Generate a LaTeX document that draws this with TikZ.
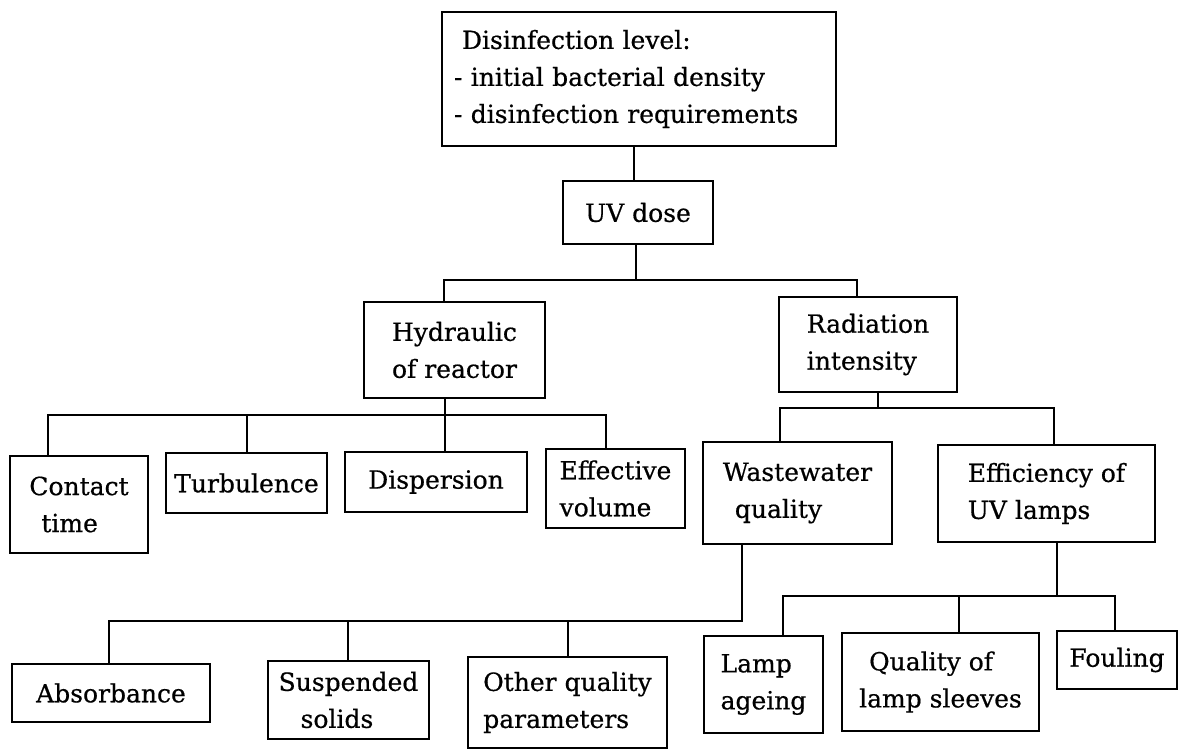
\documentclass[tikz,border=0pt]{standalone}
\usepackage{fontspec}
\setmainfont{DejaVu Serif}
\newfontfamily\boxfont{DejaVu Serif}[FakeBold=0.6]
\begin{document}
\begin{tikzpicture}[x=1pt,y=-1pt,
  box/.style={draw, line width=2.6pt, align=left, inner sep=0pt,
    font=\boxfont\fontsize{25}{37}\selectfont},
  conn/.style={line width=2.6pt, line join=miter}]
\useasboundingbox (0,0) rectangle (1187,751);
\fill[white] (0,0) rectangle (1187,751);
% nodes
\node[box, minimum width=394pt, minimum height=134pt, text width=370pt] (top) at (639,79)
  {\hspace*{8pt}Disinfection level:\\- initial bacterial density\\- disinfection requirements};
\node[box, minimum width=150pt, minimum height=63pt] (uv) at (638,212.5) {UV dose};
\node[box, minimum width=181pt, minimum height=96pt] (hyd) at (454.5,350) {Hydraulic\\of reactor};
\node[box, minimum width=178pt, minimum height=95pt] (rad) at (868,344.5) {Radiation\\intensity};
\node[box, minimum width=138pt, minimum height=97pt] (con) at (79,504.5) {Contact\\\hspace*{12pt}time};
\node[box, minimum width=161pt, minimum height=60pt] (tur) at (246.5,483) {Turbulence};
\node[box, minimum width=182pt, minimum height=60pt] (dis) at (436,482) {Dispersion};
\node[box, minimum width=139pt, minimum height=79pt] (eff) at (615.5,488.5) {Effective\\volume};
\node[box, minimum width=189pt, minimum height=102pt] (was) at (797.5,493) {Wastewater\\\hspace*{12pt}quality};
\node[box, minimum width=217pt, minimum height=97pt] (efl) at (1046.5,493.5) {Efficiency of\\UV lamps};
\node[box, minimum width=198pt, minimum height=58pt] (abs) at (111,693) {Absorbance};
\node[box, minimum width=161pt, minimum height=78pt] (sus) at (348.5,700) {Suspended\\\hspace*{22pt}solids};
\node[box, minimum width=199pt, minimum height=91pt] (oth) at (567.5,702.5) {Other quality\\parameters};
\node[box, minimum width=119pt, minimum height=97pt] (lam) at (763.5,684.5) {Lamp\\ageing};
\node[box, minimum width=197pt, minimum height=98pt] (qua) at (940.5,682) {\hspace*{10pt}Quality of\\lamp sleeves};
\node[box, minimum width=120pt, minimum height=58pt] (fou) at (1117,660) {Fouling};
% junction coordinates
\coordinate (b1l) at (444,280);
\coordinate (b1r) at (857,280);
\coordinate (b2l) at (48,415);
\coordinate (b2a) at (247,415);
\coordinate (b2b) at (445,415);
\coordinate (b2r) at (606,415);
\coordinate (b3l) at (780,408);
\coordinate (b3m) at (878,408);
\coordinate (b3r) at (1054,408);
\coordinate (b4l) at (109,621);
\coordinate (b4a) at (348,621);
\coordinate (b4b) at (568,621);
\coordinate (b4r) at (742,621);
\coordinate (b5l) at (783,596);
\coordinate (b5a) at (959,596);
\coordinate (b5m) at (1057,596);
\coordinate (b5r) at (1115,596);
% connectors
\draw[conn] (top.south -| 634,0) -- (uv.north -| 634,0);
\draw[conn] (uv.south -| 636,0) -- (636,280);
\draw[conn] (hyd.north -| b1l) -- (b1l) -- (b1r) -- (rad.north -| b1r);
\draw[conn] (hyd.south -| b2b) -- (b2b);
\draw[conn] (con.north -| b2l) -- (b2l) -- (b2r) -- (eff.north -| b2r);
\draw[conn] (b2a) -- (tur.north -| b2a);
\draw[conn] (b2b) -- (dis.north -| b2b);
\draw[conn] (rad.south -| b3m) -- (b3m);
\draw[conn] (was.north -| b3l) -- (b3l) -- (b3r) -- (efl.north -| b3r);
\draw[conn] (was.south -| b4r) -- (b4r) -- (b4l) -- (abs.north -| b4l);
\draw[conn] (b4a) -- (sus.north -| b4a);
\draw[conn] (b4b) -- (oth.north -| b4b);
\draw[conn] (efl.south -| b5m) -- (b5m);
\draw[conn] (lam.north -| b5l) -- (b5l) -- (b5r) -- (fou.north -| b5r);
\draw[conn] (b5a) -- (qua.north -| b5a);
\end{tikzpicture}
\end{document}
